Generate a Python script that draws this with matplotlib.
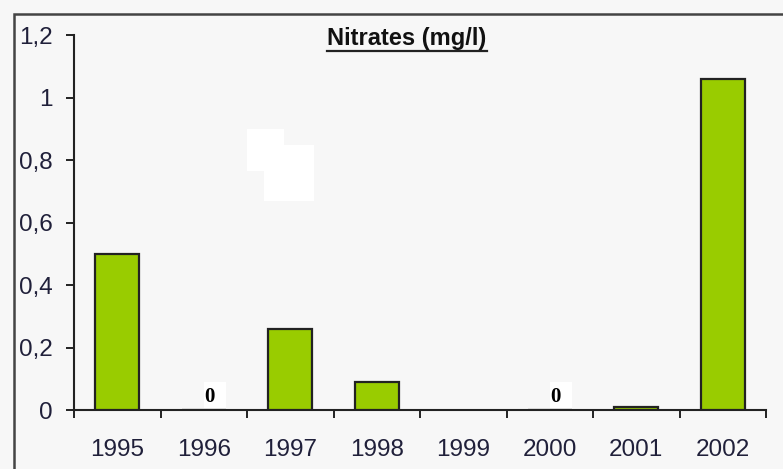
import matplotlib
matplotlib.use("Agg")
import matplotlib.pyplot as plt
from matplotlib.patches import Rectangle
import numpy as np

plt.rcParams['font.family'] = ['Liberation Sans', 'DejaVu Sans']

years = ['1995', '1996', '1997', '1998', '1999', '2000', '2001', '2002']
nitrates = [0.50, 0.0, 0.26, 0.09, np.nan, 0.0, 0.01, 1.06]
zero_labels = ['1996', '2000']
yticks = [0, 0.2, 0.4, 0.6, 0.8, 1.0, 1.2]
ytick_labels = ['0', '0,2', '0,4', '0,6', '0,8', '1', '1,2']

W, H = 783, 469
fig = plt.figure(figsize=(W / 100, H / 100), dpi=100)
fig.patch.set_facecolor('#f7f7f7')

def px(x, y, w, h):
    # pixel box (top-left origin) -> figure fraction
    return (x / W, 1 - (y + h) / H, w / W, h / H)

# outer chart frame, clipped at the right and bottom
fx, fy, fw, fh = px(14, 14, 800, 500)
fig.patches.append(Rectangle((fx, fy), fw, fh, transform=fig.transFigure,
                             fill=False, edgecolor='#444444', linewidth=1.8))

# stray white blocks on the plot area
for bx, by, bw, bh in [(247, 129, 37, 42), (264, 145, 50, 56)]:
    rx, ry, rw, rh = px(bx, by, bw, bh)
    fig.patches.append(Rectangle((rx, ry), rw, rh, transform=fig.transFigure,
                                 facecolor='white', edgecolor='none', zorder=0.5))

ax = fig.add_axes(px(74, 35, 692, 375))
ax.set_facecolor('none')

x = np.arange(len(years))
ax.bar(x, nitrates, width=0.51, color='#99cc00', edgecolor='#222222', linewidth=1.6, zorder=3)

# "0" value labels with their white boxes
for i, yr in enumerate(years):
    if yr in zero_labels:
        ax.add_patch(Rectangle((x[i], 0.006), 0.254, 0.084, facecolor='white',
                               edgecolor='none', zorder=4))
        ax.text(x[i] + 0.06, 0.042, '0', family=['Liberation Serif', 'DejaVu Serif'],
                fontweight='bold', fontsize=15, ha='center', va='center', color='black',
                zorder=5)

ax.set_xlim(-0.5, len(years) - 0.5)
ax.set_ylim(0, 1.2)
ax.set_yticks(yticks)
ax.set_yticklabels(ytick_labels)
ax.set_xticks(x)
ax.set_xticklabels(years)
ax.set_xticks(np.arange(-0.5, len(years)), minor=True)
ax.tick_params(axis='x', which='major', length=0, pad=21)
ax.tick_params(axis='x', which='minor', length=6, width=1.4, color='#222222')
ax.tick_params(axis='y', length=5.5, width=1.4, color='#222222', pad=10)
ax.tick_params(labelsize=17.5, labelcolor='#20203a')

for side in ['top', 'right']:
    ax.spines[side].set_visible(False)
for side in ['left', 'bottom']:
    ax.spines[side].set_linewidth(1.5)
    ax.spines[side].set_color('#222222')

fig.text(407 / W, 1 - 39 / H, 'Nitrates (mg/l)', ha='center', va='center',
         fontsize=17, fontweight='bold', color='#111111')
# underline under the title
fig.add_artist(plt.Line2D([327 / W, 487 / W], [1 - 51 / H, 1 - 51 / H],
                          transform=fig.transFigure, color='#222222', linewidth=1.6))

fig.savefig('out.png', dpi=100, facecolor=fig.get_facecolor())
